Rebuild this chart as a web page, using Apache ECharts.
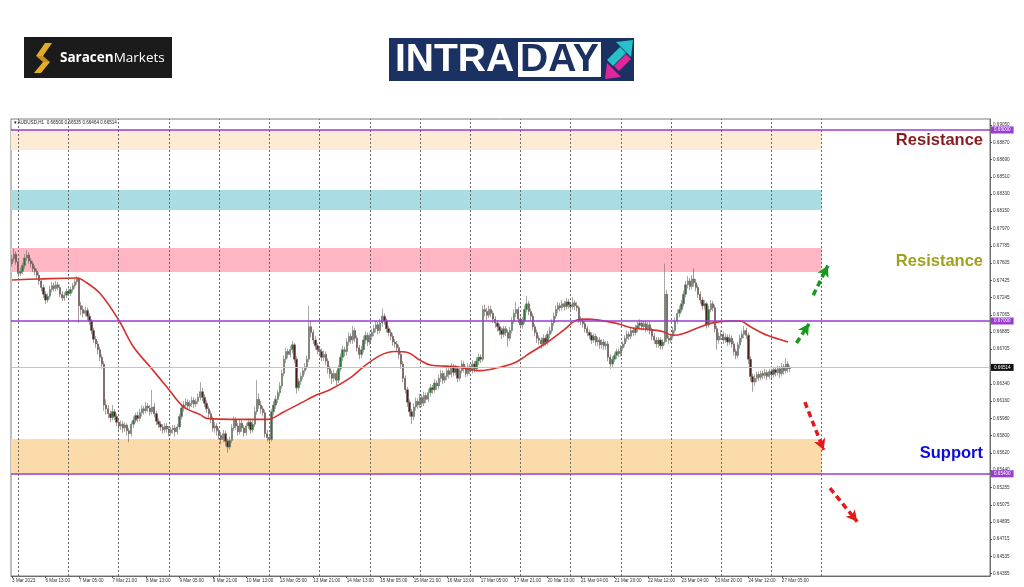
<!DOCTYPE html>
<html>
<head>
<meta charset="utf-8">
<script src="https://cdn.jsdelivr.net/npm/echarts@6/dist/echarts.min.js"></script>
<style>html,body{margin:0;padding:0;background:#fff}#c{width:1024px;height:587px}</style>
</head>
<body>
<div id="c"></div>
<script>
// ---------------- DATA ----------------
const symbolName = 'AUDUSD,H1';
const lastBarOHLC = [0.66500, 0.66535, 0.66464, 0.66514];
const lastPrice = 0.66514;

const xTickLabels = ['3 Mar 2023','6 Mar 13:00','7 Mar 05:00','7 Mar 21:00','8 Mar 13:00','9 Mar 05:00','9 Mar 21:00',
  '10 Mar 13:00','13 Mar 05:00','13 Mar 21:00','14 Mar 13:00','15 Mar 05:00','15 Mar 21:00','16 Mar 13:00',
  '17 Mar 05:00','17 Mar 21:00','20 Mar 13:00','21 Mar 04:00','21 Mar 20:00','22 Mar 12:00','23 Mar 04:00',
  '23 Mar 20:00','24 Mar 12:00','27 Mar 05:00'];

const yTickValues = [0.64355,0.64535,0.64715,0.64895,0.65075,0.65255,0.65440,0.65620,0.65800,0.65980,0.66160,
  0.66340,0.66525,0.66705,0.66885,0.67065,0.67245,0.67425,0.67605,0.67785,0.67970,0.68150,0.68330,0.68510,
  0.68690,0.68870,0.69050];

// hourly candles [open, close, low, high] in pips (0.0001)
const candles = [
[6760,6765,6757,6769],[6765,6770,6762,6776],[6770,6762,6759,6773],[6762,6750,6746,6764],[6750,6752,6747,6756],[6752,6758,6749,6761],[6758,6766,6755,6770],[6766,6769,6763,6774],
[6769,6763,6760,6772],[6763,6760,6756,6766],[6760,6755,6751,6763],[6755,6752,6748,6758],[6752,6748,6744,6755],[6748,6742,6738,6751],[6742,6735,6731,6745],[6735,6728,6724,6738],
[6728,6722,6718,6731],[6722,6726,6719,6729],[6726,6733,6723,6737],[6733,6737,6730,6741],[6737,6734,6731,6740],[6734,6738,6731,6742],[6738,6735,6732,6741],[6735,6728,6725,6738],
[6728,6724,6721,6731],[6724,6727,6721,6730],[6727,6731,6724,6734],[6731,6729,6726,6734],[6729,6733,6726,6736],[6733,6737,6730,6740],[6737,6741,6734,6744],[6741,6744,6738,6747],
[6744,6716,6698,6746],[6716,6712,6706,6720],[6712,6708,6704,6716],[6708,6711,6705,6715],[6711,6705,6701,6714],[6705,6700,6696,6708],[6700,6690,6686,6702],[6690,6681,6677,6693],
[6681,6676,6672,6684],[6676,6670,6665,6679],[6670,6662,6658,6673],[6662,6655,6650,6665],[6655,6612,6606,6658],[6612,6608,6602,6618],[6608,6603,6598,6612],[6603,6599,6594,6606],
[6599,6605,6596,6612],[6605,6600,6596,6608],[6600,6594,6590,6603],[6594,6590,6585,6597],[6590,6592,6586,6596],[6592,6588,6583,6595],[6588,6591,6584,6594],[6591,6585,6580,6593],
[6585,6582,6573,6588],[6582,6592,6579,6595],[6592,6596,6588,6600],[6596,6601,6593,6604],[6601,6598,6594,6605],[6598,6604,6595,6608],[6604,6608,6600,6612],[6608,6606,6602,6611],
[6606,6611,6603,6615],[6611,6609,6605,6614],[6609,6605,6601,6612],[6605,6610,6602,6628],[6610,6603,6599,6614],[6603,6595,6591,6606],[6595,6592,6588,6598],[6592,6589,6585,6595],
[6589,6586,6582,6592],[6586,6590,6583,6593],[6590,6587,6583,6593],[6587,6583,6579,6590],[6583,6586,6580,6589],[6586,6588,6582,6591],[6588,6584,6579,6591],[6584,6589,6581,6592],
[6589,6600,6586,6603],[6600,6609,6597,6612],[6609,6612,6605,6616],[6612,6615,6608,6619],[6615,6611,6607,6618],[6611,6614,6608,6617],[6614,6617,6610,6621],[6617,6613,6609,6620],
[6613,6616,6610,6619],[6616,6620,6613,6624],[6620,6626,6617,6636],[6626,6620,6616,6630],[6620,6614,6610,6623],[6614,6608,6604,6617],[6608,6603,6599,6611],[6603,6597,6593,6606],
[6597,6588,6584,6600],[6588,6590,6583,6594],[6590,6585,6580,6593],[6585,6580,6576,6588],[6580,6576,6571,6584],[6576,6582,6573,6586],[6582,6574,6569,6585],[6574,6568,6562,6577],
[6568,6575,6565,6579],[6575,6588,6572,6592],[6588,6596,6585,6600],[6596,6590,6586,6599],[6590,6584,6580,6593],[6584,6593,6581,6597],[6593,6588,6584,6596],[6588,6583,6579,6591],
[6583,6590,6580,6593],[6590,6594,6587,6598],[6594,6586,6582,6597],[6586,6592,6583,6596],[6592,6605,6589,6610],[6605,6618,6602,6638],[6618,6612,6608,6624],[6612,6608,6603,6616],
[6608,6604,6600,6611],[6604,6582,6578,6607],[6582,6578,6574,6586],[6578,6576,6572,6582],[6576,6605,6574,6608],[6605,6612,6601,6616],[6612,6618,6608,6622],[6618,6625,6614,6628],
[6625,6632,6621,6636],[6632,6645,6629,6649],[6645,6660,6642,6664],[6660,6668,6656,6672],[6668,6665,6661,6671],[6665,6670,6662,6674],[6670,6675,6666,6679],[6675,6660,6656,6677],
[6660,6630,6624,6663],[6630,6637,6627,6640],[6637,6642,6633,6646],[6642,6648,6639,6651],[6648,6652,6644,6656],[6652,6660,6649,6664],[6660,6694,6657,6716],[6694,6688,6683,6700],
[6688,6680,6676,6691],[6680,6674,6670,6684],[6674,6670,6665,6677],[6670,6668,6663,6673],[6668,6662,6658,6671],[6662,6665,6658,6669],[6665,6658,6654,6668],[6658,6650,6645,6661],
[6650,6645,6640,6653],[6645,6640,6634,6648],[6640,6645,6636,6649],[6645,6638,6633,6648],[6638,6650,6635,6654],[6650,6662,6647,6666],[6662,6670,6658,6674],[6670,6668,6663,6673],
[6668,6678,6664,6682],[6678,6684,6674,6688],[6684,6680,6676,6687],[6680,6690,6676,6695],[6690,6682,6678,6693],[6682,6672,6668,6685],[6672,6665,6660,6675],[6665,6670,6661,6674],
[6670,6680,6667,6684],[6680,6685,6676,6689],[6685,6678,6674,6688],[6678,6684,6675,6688],[6684,6688,6680,6692],[6688,6692,6684,6696],[6692,6696,6688,6700],[6696,6690,6686,6699],
[6690,6698,6687,6702],[6698,6705,6694,6713],[6705,6700,6696,6708],[6700,6692,6688,6703],[6692,6688,6684,6695],[6688,6684,6680,6691],[6684,6678,6674,6687],[6678,6676,6672,6681],
[6676,6672,6668,6679],[6672,6665,6660,6675],[6665,6655,6650,6668],[6655,6640,6636,6658],[6640,6628,6624,6643],[6628,6615,6610,6631],[6615,6605,6600,6618],[6605,6600,6592,6608],
[6600,6610,6596,6614],[6610,6616,6606,6620],[6616,6612,6608,6619],[6612,6620,6609,6624],[6620,6614,6610,6623],[6614,6622,6611,6626],[6622,6618,6614,6625],[6618,6625,6615,6629],
[6625,6630,6621,6634],[6630,6628,6624,6633],[6628,6635,6625,6639],[6635,6632,6628,6638],[6632,6640,6629,6644],[6640,6645,6636,6649],[6645,6638,6634,6648],[6638,6642,6635,6646],
[6642,6648,6638,6652],[6648,6644,6640,6651],[6644,6652,6641,6656],[6652,6646,6642,6655],[6646,6650,6643,6654],[6650,6640,6636,6653],[6640,6648,6637,6652],[6648,6655,6645,6659],
[6655,6650,6646,6658],[6650,6645,6641,6653],[6645,6652,6642,6656],[6652,6648,6644,6655],[6648,6655,6645,6659],[6655,6650,6646,6658],[6650,6658,6647,6662],[6658,6662,6654,6666],
[6662,6660,6656,6665],[6660,6712,6657,6716],[6712,6710,6705,6717],[6710,6706,6701,6714],[6706,6712,6703,6716],[6712,6708,6704,6716],[6708,6702,6698,6711],[6702,6698,6693,6705],
[6698,6694,6689,6701],[6694,6690,6685,6697],[6690,6686,6681,6693],[6686,6692,6683,6695],[6692,6688,6684,6695],[6688,6682,6673,6691],[6682,6690,6679,6694],[6690,6700,6687,6704],
[6700,6708,6697,6712],[6708,6712,6704,6720],[6712,6702,6698,6715],[6702,6696,6692,6705],[6696,6700,6692,6704],[6700,6712,6697,6716],[6712,6718,6709,6726],[6718,6710,6706,6721],
[6710,6705,6700,6713],[6705,6694,6690,6708],[6694,6688,6684,6697],[6688,6682,6677,6691],[6682,6680,6675,6685],[6680,6676,6671,6683],[6676,6682,6673,6686],[6682,6678,6674,6685],
[6678,6686,6675,6690],[6686,6690,6682,6694],[6690,6698,6687,6702],[6698,6705,6695,6709],[6705,6712,6702,6716],[6712,6716,6708,6720],[6716,6714,6710,6719],[6714,6718,6711,6722],
[6718,6715,6711,6721],[6715,6720,6712,6724],[6720,6717,6713,6723],[6717,6715,6711,6720],[6715,6719,6712,6725],[6719,6716,6712,6722],[6716,6714,6710,6720],[6714,6702,6698,6716],
[6702,6700,6696,6705],[6700,6697,6693,6703],[6697,6692,6688,6700],[6692,6688,6684,6695],[6688,6685,6681,6691],[6685,6680,6676,6688],[6680,6684,6677,6687],[6684,6678,6674,6687],
[6678,6680,6674,6683],[6680,6675,6671,6683],[6675,6678,6671,6681],[6678,6674,6670,6681],[6674,6676,6670,6679],[6676,6662,6658,6679],[6662,6655,6650,6665],[6655,6660,6652,6663],
[6660,6664,6657,6667],[6664,6668,6660,6671],[6668,6666,6662,6671],[6666,6672,6663,6675],[6672,6676,6669,6679],[6676,6682,6673,6685],[6682,6686,6678,6690],[6686,6684,6680,6689],
[6684,6690,6681,6693],[6690,6688,6684,6693],[6688,6692,6685,6696],[6692,6695,6688,6699],[6695,6698,6691,6702],[6698,6694,6690,6701],[6694,6697,6690,6700],[6697,6692,6688,6700],
[6692,6696,6689,6699],[6696,6690,6686,6699],[6690,6684,6680,6693],[6684,6680,6676,6687],[6680,6676,6672,6683],[6676,6680,6672,6683],[6680,6674,6670,6683],[6674,6678,6670,6681],
[6678,6728,6675,6760],[6728,6682,6678,6732],[6682,6680,6676,6685],[6680,6684,6677,6687],[6684,6690,6681,6694],[6690,6700,6687,6704],[6700,6708,6697,6712],[6708,6712,6704,6716],
[6712,6718,6709,6722],[6718,6728,6715,6732],[6728,6738,6725,6742],[6738,6742,6734,6747],[6742,6736,6732,6745],[6736,6744,6733,6748],[6744,6740,6736,6755],[6740,6735,6731,6744],
[6735,6728,6724,6738],[6728,6722,6718,6731],[6722,6716,6712,6725],[6716,6718,6712,6722],[6718,6696,6692,6720],[6696,6712,6693,6716],[6712,6718,6709,6722],[6718,6714,6710,6721],
[6714,6692,6688,6717],[6692,6680,6670,6695],[6680,6684,6676,6688],[6684,6686,6680,6690],[6686,6680,6676,6689],[6680,6683,6677,6687],[6683,6678,6674,6686],[6678,6682,6675,6686],
[6682,6676,6672,6685],[6676,6668,6664,6679],[6668,6664,6660,6671],[6664,6675,6661,6678],[6675,6682,6671,6686],[6682,6686,6678,6690],[6686,6690,6682,6695],[6690,6685,6681,6693],
[6685,6660,6655,6688],[6660,6642,6637,6663],[6642,6636,6626,6645],[6636,6640,6632,6644],[6640,6644,6636,6647],[6644,6641,6637,6647],[6641,6645,6638,6648],[6645,6643,6639,6648],
[6643,6646,6640,6650],[6646,6642,6638,6649],[6642,6647,6639,6650],[6647,6644,6640,6650],[6644,6649,6641,6652],[6649,6646,6642,6652],[6646,6650,6643,6653],[6650,6645,6640,6653],
[6645,6652,6642,6656],[6652,6648,6644,6655],[6648,6655,6645,6661],[6655,6650,6646,6658],[6650,6651.4,6646.4,6653.5]
];

// moving average (red) [bar index, value in pips]
const maPoints = [[0,6743],[13,6744],[31,6745],[35,6741],[42,6729],[51,6701],[58,6673],[66,6652],[74,6631],
  [82,6610],[90,6602],[93,6598],[109,6597],[122,6597],[130,6605],[138,6614],[146,6623],[152,6628],[162,6641],
  [168,6652],[176,6664],[183,6668],[189,6667],[195,6659],[200,6654],[213,6652],[224,6648],[232,6651],[240,6656],
  [248,6667],[256,6678],[264,6691],[270,6701],[275,6702],[288,6698],[296,6693],[305,6691],[311,6689],[316,6685],
  [321,6687],[328,6693],[335,6698],[343,6700],[348,6700],[353,6694],[361,6685],[371,6678]];

// zones [low, high]
const zoneTopPeach = [0.6879, 0.6900];
const zoneBlue = [0.68162, 0.68372];
const zonePink = [0.67513, 0.67765];
const zoneSupport = [0.6540, 0.65765];
const keyLevels = [0.6900, 0.6700, 0.6540];

// projection arrows [[barIndex, price] start, end]
const upArrows = [[[383, 0.6727], [390, 0.6758]], [[375, 0.6677], [381, 0.6697]]];
const downArrows = [[[379, 0.6615], [388, 0.6565]], [[391, 0.6525], [404, 0.6490]]];

// ---------------- BUILD ----------------
const PIP = 0.0001;
const TOTAL_SLOTS = 468;        // hourly slots incl. empty future space
const LABEL_STEP = 16;
const SEP_FIRST = 3, SEP_STEP = 24, SEP_LAST = 387; // daily separators
const ZONE_END = 387;

const categories = Array.from({length: TOTAL_SLOTS}, (_, i) => String(i));
const ohlc = candles.map(r => r.map(v => +(v * PIP).toFixed(5)));
const maData = maPoints.map(p => [p[0], +(p[1] * PIP).toFixed(5)]);
const sepIdx = [];
for (let i = SEP_FIRST; i <= SEP_LAST; i += SEP_STEP) sepIdx.push(i);

const zoneStyle = [
  [zoneTopPeach, '#FDEBD3'],
  [zoneBlue, '#A9DCE3'],
  [zonePink, '#FDB6C2'],
  [zoneSupport, '#FCDBAA']
];

const FONT = 'Liberation Sans';
const tiny = 4.6;

const chart = echarts.init(document.getElementById('c'), null, {renderer: 'canvas'});
const option = {
  animation: false,
  backgroundColor: '#ffffff',
  grid: {left: 11, top: 119, width: 979, height: 457, show: true, borderColor: '#7d7d7d', borderWidth: 1, backgroundColor: 'transparent'},
  xAxis: {
    type: 'category', data: categories, boundaryGap: true,
    axisLine: {show: true, lineStyle: {color: '#6d6d6d', width: 1}},
    axisTick: {show: true, length: 2, alignWithLabel: true,
      interval: (i) => i % LABEL_STEP === 0 && i / LABEL_STEP < xTickLabels.length, lineStyle: {color: '#555'}},
    axisLabel: {
      interval: (i) => i % LABEL_STEP === 0 && i / LABEL_STEP < xTickLabels.length,
      formatter: (v, i) => xTickLabels[Math.round(i / LABEL_STEP)] || '',
      fontSize: tiny, fontFamily: FONT, color: '#333', align: 'left', margin: 2
    },
    splitLine: {show: false}
  },
  yAxis: {
    type: 'value', position: 'right', min: 0.6433, max: 0.69115,
    axisLine: {show: true, lineStyle: {color: '#6d6d6d', width: 1}},
    axisTick: {show: true, length: 2, customValues: yTickValues, lineStyle: {color: '#555'}},
    axisLabel: {customValues: yTickValues, formatter: v => v.toFixed(5), fontSize: tiny, fontFamily: FONT, color: '#333', margin: 3},
    splitLine: {show: false}
  },
  series: [
    { // zones
      type: 'line', data: [], z: 1, silent: true,
      markArea: {
        silent: true,
        data: zoneStyle.map(([z, c]) => [
          {yAxis: z[1], itemStyle: {color: c, opacity: 1}},
          {xAxis: ZONE_END, yAxis: z[0]}
        ])
      }
    },
    { // day separators + levels
      type: 'line', data: [], z: 2, silent: true,
      markLine: {
        silent: true, symbol: ['none', 'none'], animation: false, precision: 6,
        data: [
          ...sepIdx.map(i => ({xAxis: i, lineStyle: {color: '#6a6a6a', type: [2, 2], width: 1}, label: {show: false}})),
          {yAxis: lastPrice, lineStyle: {color: '#c4c4c4', type: 'solid', width: 1},
            label: {show: true, position: 'end', distance: 1, formatter: () => lastPrice.toFixed(5),
              backgroundColor: '#111', color: '#fff', fontSize: tiny, fontFamily: FONT, padding: [1, 3, 1, 3]}},
          ...keyLevels.map(v => ({yAxis: v, lineStyle: {color: '#9B3BD1', type: 'solid', width: 1.6},
            label: {show: true, position: 'end', distance: 1, formatter: () => v.toFixed(5),
              backgroundColor: '#9B3BD1', color: '#fff', fontSize: tiny, fontFamily: FONT, padding: [1, 3, 1, 3]}}))
        ]
      }
    },
    {
      type: 'candlestick', data: ohlc, z: 3, barWidth: 1.8,
      itemStyle: {color: '#237A2B', color0: '#4A1E1E', borderColor: '#6e6e6e', borderColor0: '#6a5a5a', borderWidth: 0.6}
    },
    {
      type: 'line', data: maData, z: 4, smooth: 0.35, showSymbol: false, silent: true,
      lineStyle: {color: '#D6302E', width: 1.6}
    },
    { // arrows
      type: 'line', data: [], z: 5, silent: true,
      markLine: {
        silent: true, symbol: ['none', 'arrow'], symbolSize: [9, 11], precision: 6,
        label: {show: false},
        data: [
          ...upArrows.map(a => [{coord: a[0], lineStyle: {color: '#159A1C', width: 3.5, type: [6, 4]}}, {coord: a[1]}]),
          ...downArrows.map(a => [{coord: a[0], lineStyle: {color: '#E01B1B', width: 3.5, type: [6, 4]}}, {coord: a[1]}])
        ]
      }
    }
  ],
  graphic: [
    // header text in the chart
    {type: 'text', left: 13, top: 120, z: 10, style: {
      text: '\u25BC' + symbolName + '  ' + lastBarOHLC.map(v => v.toFixed(5)).join(' '),
      fontSize: tiny, fontFamily: FONT, fill: '#222'}},
    // zone labels
    {type: 'text', z: 10, x: 983, y: 140, style: {text: 'Resistance', align: 'right', verticalAlign: 'middle',
      fontSize: 16.5, fontWeight: 'bold', fontFamily: FONT, fill: '#8B1A1E'}},
    {type: 'text', z: 10, x: 983, y: 261, style: {text: 'Resistance', align: 'right', verticalAlign: 'middle',
      fontSize: 16.5, fontWeight: 'bold', fontFamily: FONT, fill: '#A3A01E'}},
    {type: 'text', z: 10, x: 983, y: 453, style: {text: 'Support', align: 'right', verticalAlign: 'middle',
      fontSize: 16.5, fontWeight: 'bold', fontFamily: FONT, fill: '#0C0CE0'}},
    // Saracen Markets logo
    {type: 'rect', z: 10, shape: {x: 24, y: 37, width: 148, height: 41}, style: {fill: '#1b1b1b'}},
    {type: 'polygon', z: 11, shape: {points: [[45,43],[52,43],[43,56],[36,56]]}, style: {fill: '#E2AE2A'}},
    {type: 'polygon', z: 11, shape: {points: [[36,56],[43,56],[50,62],[43,62]]}, style: {fill: '#C89020'}},
    {type: 'polygon', z: 11, shape: {points: [[43,62],[50,62],[41,73],[34,73]]}, style: {fill: '#E2AE2A'}},
    {type: 'text', z: 11, x: 60, y: 58, style: {
      text: '{b|Saracen}{r|Markets}', verticalAlign: 'middle',
      rich: {b: {fontSize: 13.5, fontWeight: 'bold', fontFamily: 'Open Sans', fill: '#fff', color: '#fff'},
             r: {fontSize: 13.5, fontWeight: 'normal', fontFamily: 'Open Sans', fill: '#fff', color: '#fff'}}}},
    // INTRADAY logo
    {type: 'rect', z: 10, shape: {x: 389, y: 38, width: 245, height: 43}, style: {fill: '#1B3162'}},
    {type: 'rect', z: 11, shape: {x: 518, y: 42, width: 83, height: 35}, style: {fill: '#ffffff'}},
    {type: 'text', z: 12, x: 395, y: 60, style: {text: 'INTRA', verticalAlign: 'middle', fontSize: 39, fontWeight: 'bold', fontFamily: FONT, fill: '#fff'}},
    {type: 'text', z: 12, x: 520, y: 60, style: {text: 'DAY', verticalAlign: 'middle', fontSize: 39, fontWeight: 'bold', fontFamily: FONT, fill: '#1B3162'}},
    {type: 'polygon', z: 12, shape: {points: [[607,60],[613,66],[626,53],[620,47]]}, style: {fill: '#27C1C9'}},
    {type: 'polygon', z: 12, shape: {points: [[633,40],[616,42],[631,57]]}, style: {fill: '#27C1C9'}},
    {type: 'polygon', z: 12, shape: {points: [[631,59],[626,54],[614,66],[619,71]]}, style: {fill: '#E1259B'}},
    {type: 'polygon', z: 12, shape: {points: [[605,79],[607,63],[621,77]]}, style: {fill: '#E1259B'}}
  ]
};
chart.setOption(option);
</script>
</body>
</html>
